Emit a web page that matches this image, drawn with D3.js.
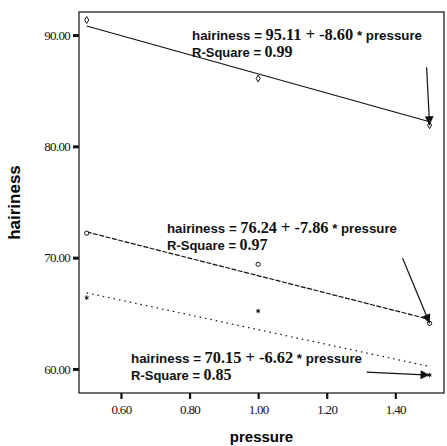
<!DOCTYPE html>
<html>
<head>
<meta charset="utf-8">
<script src="https://cdn.jsdelivr.net/npm/d3@7/dist/d3.min.js"></script>
<style>
  body { margin: 0; background: #fff; }
  svg { display: block; }
</style>
</head>
<body>
<svg id="canvas"></svg>
<script>
/***********************************************************************/
// Data

var pressure = [0.5, 1.0, 1.5];
var hairinessTop = [91.35, 86.1, 81.9];
var hairinessMid = [72.2, 69.4, 64.1];
var hairinessLow = [66.4, 65.2, 59.45];

var intercepts = [95.11, 76.24, 70.15];
var slopes = [-8.60, -7.86, -6.62];
var rSquares = [0.99, 0.97, 0.85];

var xTicks = [0.6, 0.8, 1.0, 1.2, 1.4];
var yTicks = [60, 70, 80, 90];

/***********************************************************************/
// Layout

var svg_width = 447, svg_height = 446;
var frame = { left: 79, top: 12, right: 444, bottom: 393 };

// where each equation label sits, and how the arrow leaves it
var labels = [
  { x: 192, y: 40, width: 230, dash: null,  arrow: { dx: -3,  dy: -58 } },
  { x: 167, y: 233, width: 230, dash: '5,1.5', arrow: { dx: -27, dy: -65 } },
  { x: 131, y: 363, width: 231, dash: '1.5,4', arrow: { dx: -63, dy: -3 } },
];

var series = [hairinessTop, hairinessMid, hairinessLow];

var xScale = d3.scaleLinear().domain([0.4776, 1.542]).range([frame.left, frame.right]);
var yScale = d3.scaleLinear().domain([57.84, 92.07]).range([frame.bottom, frame.top]);

var svg = d3.select('#canvas').attr('width', svg_width).attr('height', svg_height);

svg.append('defs').append('marker')
  .attr('id', 'head').attr('viewBox', '0 0 10 10')
  .attr('refX', 10).attr('refY', 5)
  .attr('markerWidth', 13).attr('markerHeight', 9)
  .attr('markerUnits', 'userSpaceOnUse')
  .attr('orient', 'auto')
  .append('path').attr('d', 'M0,0 L10,5 L0,10 Z').attr('fill', '#111');

var sans = '"Liberation Sans", Arial, sans-serif', serif = '"Liberation Serif", "Times New Roman", serif';

/***********************************************************************/
// Frame and axes

svg.append('rect')
  .attr('x', frame.left).attr('y', frame.top)
  .attr('width', frame.right - frame.left).attr('height', frame.bottom - frame.top)
  .attr('fill', 'none').attr('stroke', '#111').attr('stroke-width', 1.2);

var yAxis = svg.append('g').attr('transform', 'translate(' + frame.left + ',0)')
  .call(d3.axisLeft(yScale).tickValues(yTicks).tickFormat(d3.format('.2f')).tickSize(6).tickPadding(3));
yAxis.select('.domain').remove();
yAxis.selectAll('line').attr('stroke', '#111').attr('stroke-width', 3);
yAxis.selectAll('text')
  .style('font-family', serif).style('font-size', '13px').style('letter-spacing', '-0.7px').attr('fill', '#111');

var xAxis = svg.append('g').attr('transform', 'translate(0,' + frame.bottom + ')')
  .call(d3.axisBottom(xScale).tickValues(xTicks).tickFormat(d3.format('.2f')).tickSize(6).tickPadding(6));
xAxis.select('.domain').remove();
xAxis.selectAll('line').attr('stroke', '#111').attr('stroke-width', 2.2);
xAxis.selectAll('text')
  .style('font-family', serif).style('font-size', '13px').style('letter-spacing', '-0.7px').attr('fill', '#111');

svg.append('text')
  .attr('transform', 'translate(20,' + ((frame.top + frame.bottom) / 2) + ') rotate(-90)')
  .attr('text-anchor', 'middle')
  .style('font-family', sans).style('font-weight', 'bold').style('font-size', '17px')
  .text('hairiness');

svg.append('text')
  .attr('x', (frame.left + frame.right) / 2).attr('y', 442)
  .attr('text-anchor', 'middle')
  .style('font-family', sans).style('font-weight', 'bold').style('font-size', '15px')
  .text('pressure');

/***********************************************************************/
// Fit lines, points, labels

var symbols = [d3.symbolDiamond, d3.symbolCircle, d3.symbolAsterisk];

series.forEach((values, i) => {
  var fit = x => intercepts[i] + slopes[i] * x;
  var ends = [d3.min(pressure), d3.max(pressure)];

  svg.append('path')
    .datum(ends)
    .attr('d', d3.line().x(d => xScale(d)).y(d => yScale(fit(d))))
    .attr('fill', 'none').attr('stroke', '#111').attr('stroke-width', 1.2)
    .attr('stroke-dasharray', labels[i].dash);

  svg.selectAll('.pt' + i)
    .data(pressure).enter().append('path')
    .attr('transform', (d, j) => 'translate(' + xScale(d) + ',' + yScale(values[j]) + ')')
    .attr('d', d3.symbol().type(symbols[i]).size(14))
    .attr('fill', i == 2 ? 'none' : '#fff').attr('stroke', '#111').attr('stroke-width', 1);

  var lab = svg.append('text')
    .attr('x', labels[i].x).attr('y', labels[i].y)
    .attr('textLength', labels[i].width).attr('lengthAdjust', 'spacingAndGlyphs')
    .style('font-weight', 'bold').attr('fill', '#111');
  lab.append('tspan').style('font-family', sans).style('font-size', '13px').text('hairiness = ');
  lab.append('tspan').style('font-family', serif).style('font-size', '16px')
    .text(intercepts[i].toFixed(2) + ' + -' + Math.abs(slopes[i]).toFixed(2));
  lab.append('tspan').style('font-family', sans).style('font-size', '13px').text(' * pressure');

  var rs = svg.append('text')
    .attr('x', labels[i].x).attr('y', labels[i].y + 17)
    .style('font-weight', 'bold').attr('fill', '#111');
  rs.append('tspan').style('font-family', sans).style('font-size', '13px').text('R-Square = ');
  rs.append('tspan').style('font-family', serif).style('font-size', '16px').text(rSquares[i].toFixed(2));

  var tipX = xScale(pressure[pressure.length - 1]), tipY = yScale(values[values.length - 1]);
  svg.append('line')
    .attr('x1', tipX + labels[i].arrow.dx).attr('y1', tipY + labels[i].arrow.dy)
    .attr('x2', tipX).attr('y2', tipY)
    .attr('stroke', '#111').attr('stroke-width', 1.2)
    .attr('marker-end', 'url(#head)');
});
</script>
</body>
</html>
